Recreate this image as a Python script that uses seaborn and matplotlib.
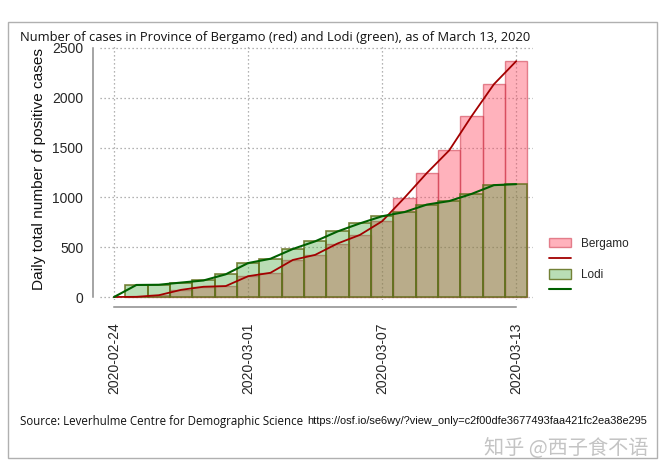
import matplotlib
matplotlib.use("Agg")
import matplotlib.pyplot as plt
from matplotlib.patches import Patch, Rectangle
from matplotlib.lines import Line2D
import seaborn as sns
import pandas as pd
import numpy as np

# ---- data ----
dates = ["2020-02-24", "2020-02-25", "2020-02-26", "2020-02-27", "2020-02-28",
         "2020-02-29", "2020-03-01", "2020-03-02", "2020-03-03", "2020-03-04",
         "2020-03-05", "2020-03-06", "2020-03-07", "2020-03-08", "2020-03-09",
         "2020-03-10", "2020-03-11", "2020-03-12", "2020-03-13"]
bergamo = [0, 2, 18, 72, 103, 110, 209, 243, 372, 423, 537, 623, 761, 997,
           1245, 1472, 1815, 2136, 2368]
lodi = [0, 121, 123, 145, 166, 228, 341, 384, 482, 559, 658, 739, 811, 853,
        928, 963, 1035, 1123, 1133]
tick_labels = ["2020-02-24", "2020-03-01", "2020-03-07", "2020-03-13"]
y_ticks = [0, 500, 1000, 1500, 2000, 2500]

d = pd.to_datetime(pd.Series(dates))
day = (d - d.iloc[0]).dt.days.to_numpy()
df = pd.DataFrame({"day": day, "Bergamo": bergamo, "Lodi": lodi})
tick_pos = [(pd.Timestamp(t) - d.iloc[0]).days for t in tick_labels]

sns.set_style("white")
plt.rcParams["font.family"] = ["Liberation Sans", "DejaVu Sans"]

fig = plt.figure(figsize=(6.64, 4.76), dpi=100)
ax = fig.add_axes([100/664, 1 - 300/476, 433/664, 255/476])

red_face = (1.0, 0.25, 0.35, 0.40)
red_edge = (0.80, 0.20, 0.28, 0.55)
green_face = (0.24, 0.64, 0.20, 0.36)
green_edge = (0.38, 0.43, 0.10, 0.85)

sns.barplot(data=df, x="day", y="Bergamo", native_scale=True, width=1.0,
            color="red", saturation=1, ax=ax, zorder=2)
n_red = len(ax.patches)
for p in ax.patches:
    p.set_facecolor(red_face)
    p.set_edgecolor(red_edge)
    p.set_linewidth(1.0)
sns.barplot(data=df, x="day", y="Lodi", native_scale=True, width=1.0,
            color="green", saturation=1, ax=ax, zorder=3)
for p in ax.patches[n_red:]:
    p.set_facecolor(green_face)
    p.set_edgecolor(green_edge)
    p.set_linewidth(1.2)
for p in ax.patches:
    if p.get_height() == 0:
        p.set_visible(False)

sns.lineplot(data=df, x="day", y="Bergamo", color="#a30000", lw=1.3, ax=ax, zorder=5)
sns.lineplot(data=df, x="day", y="Lodi", color="#006000", lw=1.5, ax=ax, zorder=6)

ax.set_xlim(-0.63, 18.75)
ax.set_ylim(-30, 2530)
ax.set_xticks(tick_pos)
ax.set_xticklabels(tick_labels, fontsize=8.2, color="#111111")
ax.tick_params(axis="x", labelrotation=90)
ax.set_yticks(y_ticks)
ax.set_yticklabels([str(v) for v in y_ticks], fontsize=8.2, color="#111111")
ax.grid(True, linestyle=(0, (1, 2.2)), color="#9a9a9a", lw=0.9)
ax.set_axisbelow(True)
ax.set_xlabel("")
ax.set_ylabel("Daily total number of positive cases", fontsize=11.1, color="#111111")
ax.yaxis.set_label_coords(-0.125, 0.514)

for s in ["top", "right"]:
    ax.spines[s].set_visible(False)
for s in ["left", "bottom"]:
    ax.spines[s].set_position(("outward", 5))
    ax.spines[s].set_color("#8c8c8c")
    ax.spines[s].set_linewidth(1.1)
ax.spines["left"].set_bounds(0, 2500)
ax.spines["bottom"].set_bounds(0, 18)
ax.tick_params(axis="both", which="both", direction="out", length=4,
               width=1.0, color="#8c8c8c")
ax.tick_params(axis="x", pad=7)
ax.tick_params(axis="y", pad=3)

handles = [Patch(facecolor=red_face, edgecolor=red_edge),
           Line2D([], [], color="#a30000", lw=1.3),
           Patch(facecolor=green_face, edgecolor=green_edge),
           Line2D([], [], color="#006000", lw=1.5)]
fig.legend(handles, ["Bergamo", "", "Lodi", ""], loc="upper left",
           bbox_to_anchor=(538/664, 1 - 227/476), frameon=False, fontsize=8.5,
           handlelength=1.9, handleheight=0.9, labelspacing=0.32,
           handletextpad=0.8)

# title, source, watermark
fig.text(20/664, 1 - 37/476, "Number of cases in Province of Bergamo (red) and Lodi (green), as of March 13, 2020",
         fontsize=9.3, family=["Open Sans", "DejaVu Sans"], color="#111111", va="center", ha="left")
src = fig.text(20/664, 1 - 421/476, "Source: Leverhulme Centre for Demographic Science",
               fontsize=8.3, family=["Open Sans", "DejaVu Sans"], color="#111111", va="center", ha="left")
fig.canvas.draw()
bb = src.get_window_extent(fig.canvas.get_renderer())
fig.text((bb.x1 + 4) / 664, 1 - 421/476,
         "https://osf.io/se6wy/?view_only=c2f00dfe3677493faa421fc2ea38e295",
         fontsize=7.95, family=["Liberation Sans", "DejaVu Sans"], color="#111111",
         va="center", ha="left")
fig.text(648/664, 1 - 448/476, "知乎 @西子食不语", fontsize=14.5,
         family=["Noto Sans CJK SC", "DejaVu Sans"], color="#c4c4c4", va="center", ha="right")

fig.patches.append(Rectangle((8/664, 1 - 458/476), 649/664, 436/476,
                             transform=fig.transFigure, fill=False,
                             edgecolor="#b0b0b0", lw=1.0))

fig.savefig("out.png", dpi=100)
